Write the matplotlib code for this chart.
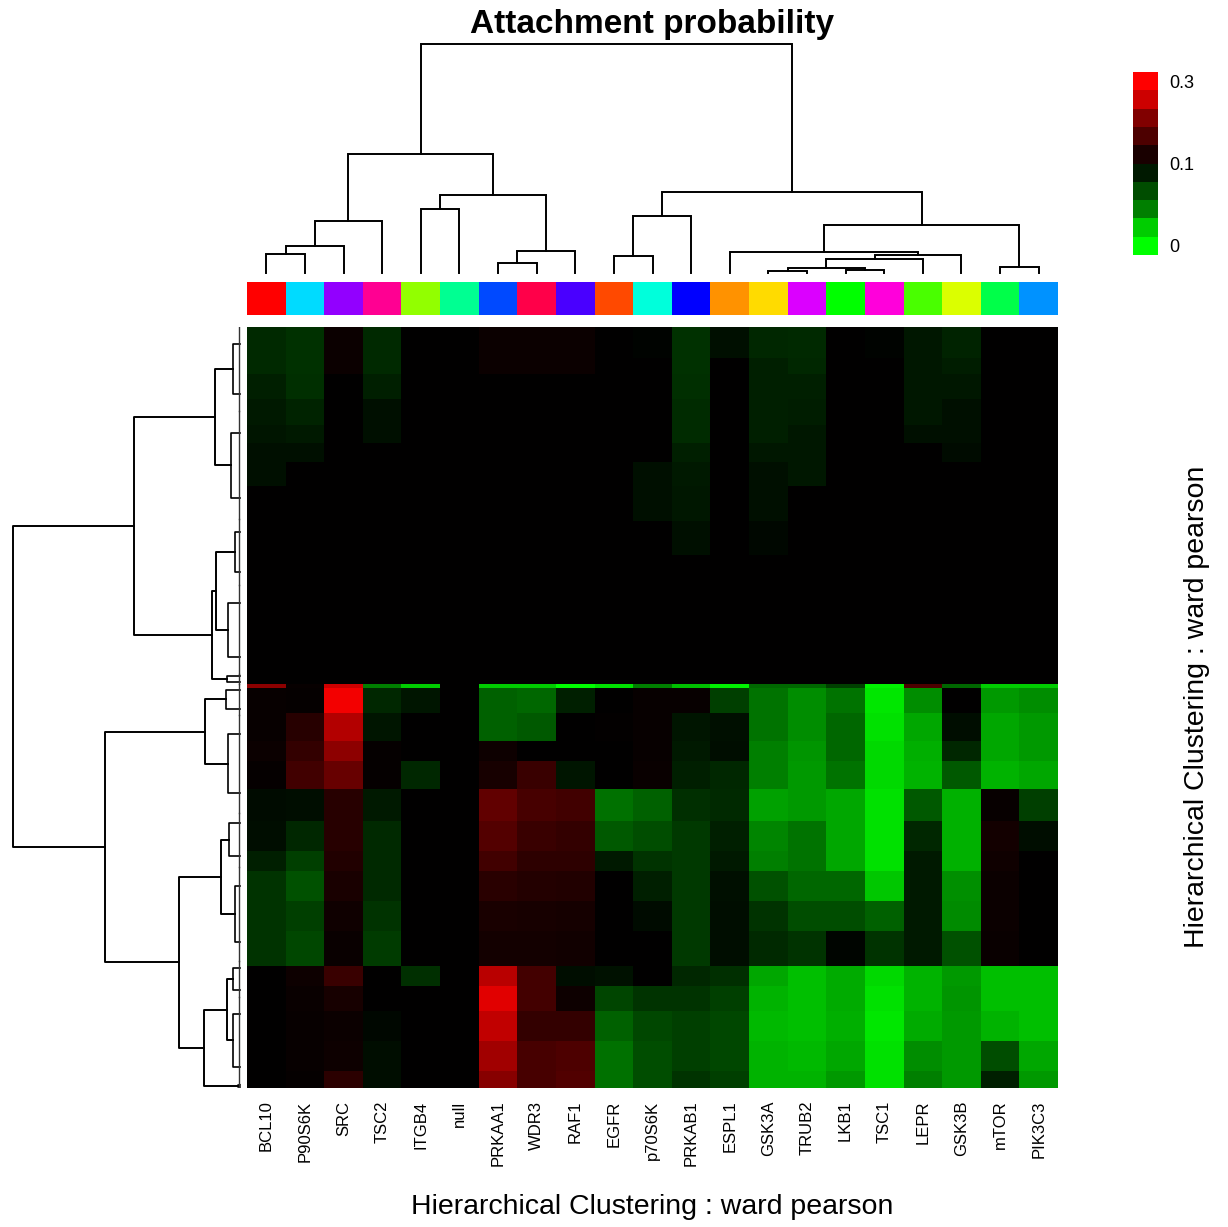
import numpy as np
import matplotlib.pyplot as plt
from matplotlib.colors import LinearSegmentedColormap, TwoSlopeNorm

plt.rcParams['font.family'] = ['Liberation Sans', 'DejaVu Sans']

# column genes (display order) and their side colours
genes = ['BCL10', 'P90S6K', 'SRC', 'TSC2', 'ITGB4', 'null', 'PRKAA1', 'WDR3', 'RAF1',
         'EGFR', 'p70S6K', 'PRKAB1', 'ESPL1', 'GSK3A', 'TRUB2', 'LKB1', 'TSC1', 'LEPR',
         'GSK3B', 'mTOR', 'PIK3C3']
gene_colors = ['#FF0000', '#00DBFF', '#9200FF', '#FF0092', '#92FF00', '#00FF92', '#0049FF',
               '#FF0049', '#4900FF', '#FF4900', '#00FFDB', '#0000FF', '#FF9200', '#FFDB00',
               '#DB00FF', '#00FF00', '#FF00DB', '#49FF00', '#DBFF00', '#00FF49', '#0092FF']

# heatmap: blocks of rows (number of rows) and their attachment probability per gene
block_rows = [31, 16, 25, 26, 18, 19, 24, 35, 34, 129,
              4, 24, 28, 20, 28,
              32, 30, 20, 30, 30, 35,
              20, 25, 30, 30, 17]
block_prob = [
    [.084, .081, .108, .084, .1, .1, .108, .108, .108, .1, .099, .081, .094, .085, .084, .1, .099, .091, .086, .1, .1],
    [.084, .081, .108, .084, .1, .1, .108, .108, .108, .1, .1, .081, .1, .0875, .085, .1, .1, .091, .089, .1, .1],
    [.0875, .082, .1, .0875, .1, .1, .1, .1, .1, .1, .1, .082, .1, .0875, .0875, .1, .1, .091, .091, .1, .1],
    [.09, .086, .1, .094, .1, .1, .1, .1, .1, .1, .1, .083, .1, .0875, .089, .1, .1, .091, .094, .1, .1],
    [.092, .09, .1, .094, .1, .1, .1, .1, .1, .1, .1, .083, .1, .0875, .091, .1, .1, .094, .094, .1, .1],
    [.094, .094, .1, .1, .1, .1, .1, .1, .1, .1, .1, .0875, .1, .091, .091, .1, .1, .1, .096, .1, .1],
    [.094, .1, .1, .1, .1, .1, .1, .1, .1, .1, .094, .09, .1, .094, .091, .1, .1, .1, .1, .1, .1],
    [.1, .1, .1, .1, .1, .1, .1, .1, .1, .1, .094, .091, .1, .094, .1, .1, .1, .1, .1, .1, .1],
    [.1, .1, .1, .1, .1, .1, .1, .1, .1, .1, .1, .094, .1, .097, .1, .1, .1, .1, .1, .1, .1],
    [.1, .1, .1, .1, .1, .1, .1, .1, .1, .1, .1, .1, .1, .1, .1, .1, .1, .1, .1, .1, .1],
    [.21, .105, .26, .05, .02, .1, .02, .02, .0, .012, .05, .025, .005, .06, .06, .075, .005, .16, .06, .02, .02],
    [.105, .104, .29, .085, .092, .1, .062, .06, .088, .1, .105, .105, .075, .055, .045, .055, .01, .045, .1, .04, .045],
    [.106, .13, .24, .092, .1, .1, .062, .065, .1, .103, .106, .092, .094, .055, .045, .06, .012, .035, .095, .035, .04],
    [.108, .14, .21, .104, .1, .1, .11, .1, .1, .1, .106, .09, .095, .05, .042, .06, .015, .032, .085, .035, .04],
    [.104, .15, .18, .104, .085, .1, .118, .145, .092, .1, .107, .088, .085, .05, .04, .055, .015, .03, .065, .03, .035],
    [.096, .095, .13, .09, .1, .1, .175, .155, .15, .056, .062, .082, .084, .037, .04, .035, .012, .065, .031, .105, .075],
    [.095, .085, .13, .084, .1, .1, .165, .145, .14, .065, .07, .078, .088, .048, .055, .035, .012, .085, .031, .115, .095],
    [.088, .075, .125, .084, .1, .1, .15, .135, .135, .09, .08, .078, .09, .05, .055, .035, .012, .09, .031, .112, .1],
    [.08, .068, .12, .084, .1, .1, .132, .128, .125, .1, .088, .078, .094, .068, .06, .06, .022, .09, .044, .108, .1],
    [.08, .075, .112, .08, .1, .1, .12, .118, .117, .1, .096, .078, .095, .08, .07, .07, .062, .09, .046, .108, .1],
    [.08, .072, .107, .077, .1, .1, .115, .115, .113, .1, .1, .078, .095, .084, .08, .098, .08, .09, .068, .107, .1],
    [.101, .11, .145, .1, .082, .1, .245, .152, .095, .093, .1, .085, .082, .035, .025, .033, .015, .03, .04, .025, .025],
    [.101, .107, .118, .1, .1, .1, .275, .152, .11, .073, .08, .08, .075, .03, .025, .033, .012, .03, .042, .025, .025],
    [.101, .106, .108, .097, .1, .1, .25, .14, .14, .062, .072, .075, .072, .028, .025, .032, .01, .033, .04, .03, .025],
    [.101, .106, .11, .095, .1, .1, .225, .155, .16, .056, .07, .075, .072, .03, .028, .035, .012, .045, .04, .07, .035],
    [.1, .104, .133, .095, .1, .1, .205, .155, .163, .056, .07, .08, .075, .03, .03, .04, .012, .05, .04, .088, .04],
]

# column dendrogram: (left, right, height), leaves are 0..20
col_links = [(0, 1, 19), (21, 2, 27), (22, 3, 52), (4, 5, 64), (6, 7, 10), (25, 8, 22),
             (24, 26, 78), (23, 27, 119), (9, 10, 17), (29, 11, 57), (13, 14, 2), (15, 16, 3),
             (31, 32, 5), (33, 17, 14), (34, 18, 18), (12, 35, 21), (19, 20, 6), (36, 37, 48),
             (30, 38, 81), (28, 39, 229)]

# row dendrogram: leaf groups of rows, height of each group's own small subtree
row_group_rows = [84, 108, 66, 89, 10, 30, 98, 54, 94, 36, 87, 4]
row_group_height = [7, 9, 5, 12, 13, 14, 12, 11, 5, 7, 7, 2]
row_links = [(0, 1, 25), (2, 3, 24), (13, 4, 28), (12, 14, 106), (5, 6, 35), (7, 8, 19),
             (9, 10, 13), (18, 11, 36), (17, 19, 61), (16, 20, 135), (15, 21, 227)]

# colour key
key_values = [0, .02, .05, .07, .09, .12, .16, .2, .26, .3]
key_labels = ['0', '0.1', '0.3']
key_label_pos = [0.5, 5, 9.5]

cmap = LinearSegmentedColormap.from_list('gbr', ['#00FF00', '#000000', '#FF0000'])
norm = TwoSlopeNorm(vmin=0, vcenter=0.1, vmax=0.3)

W, H = 1228, 1227
fig = plt.figure(figsize=(W / 100, H / 100), dpi=100)


def px_axes(x0, y0, x1, y1):
    return fig.add_axes([x0 / W, 1 - y1 / H, (x1 - x0) / W, (y1 - y0) / H])


def dendro(links, leaf_pos, leaf_h):
    pos, hgt, segs = list(leaf_pos), list(leaf_h), []
    for a, b, h in links:
        segs.append(([pos[a], pos[a], pos[b], pos[b]], [hgt[a], h, h, hgt[b]]))
        pos.append((pos[a] + pos[b]) / 2)
        hgt.append(h)
    return segs


# heatmap
ax = px_axes(247, 327, 1058, 1088)
row_edges = np.concatenate([[0], np.cumsum(block_rows)])
ax.pcolormesh(np.arange(len(genes) + 1), row_edges, np.array(block_prob), cmap=cmap, norm=norm)
ax.set_xlim(0, len(genes))
ax.set_ylim(row_edges[-1], 0)
ax.set_xticks(np.arange(len(genes)) + 0.5)
ax.set_xticklabels(genes, rotation=90, fontsize=12)
ax.tick_params(axis='x', length=0, pad=9)
ax.set_yticks([])
for s in ax.spines.values():
    s.set_visible(False)

# side colour strip
ax = px_axes(247, 282, 1058, 315)
ax.bar(np.arange(len(genes)) + 0.5, 1, width=1, color=gene_colors)
ax.set_xlim(0, len(genes))
ax.set_ylim(0, 1)
ax.axis('off')

# column dendrogram
ax = px_axes(247, 35, 1058, 280)
for xs, ys in dendro(col_links, np.arange(len(genes)) + 0.5, [0] * len(genes)):
    ax.plot(xs, ys, color='black', lw=1.4, solid_joinstyle='miter')
ax.set_xlim(0, len(genes))
ax.set_ylim(-7, 238)
ax.axis('off')

# row dendrogram
ax = px_axes(0, 327, 245, 1088)
g_edges = np.concatenate([[0], np.cumsum(row_group_rows)])
g_centre = (g_edges[:-1] + g_edges[1:]) / 2
for ys, xs in dendro(row_links, g_centre, row_group_height):
    ax.plot(xs, ys, color='black', lw=1.4)
for c, n, h in zip(g_centre, row_group_rows, row_group_height):
    lo, hi = c - 0.3 * n, c + 0.3 * n
    ax.plot([0, h, h, 0], [lo, lo, hi, hi], color='black', lw=1.2)
    ax.plot([1.5, 1.5], [c - 0.5 * n, c + 0.5 * n], color='#333333', lw=1.0)
ax.set_xlim(240, -5)
ax.set_ylim(g_edges[-1], 0)
ax.axis('off')

# colour key
ax = px_axes(1133, 72, 1158, 255)
ax.pcolormesh([0, 1], np.arange(len(key_values) + 1), np.array(key_values)[:, None], cmap=cmap, norm=norm)
ax.set_ylim(0, len(key_values))
ax.set_xticks([])
ax.yaxis.tick_right()
ax.set_yticks(key_label_pos)
ax.set_yticklabels(key_labels, fontsize=13)
ax.tick_params(axis='y', length=0, pad=8)
for s in ax.spines.values():
    s.set_visible(False)

fig.text(652 / W, 1 - 25 / H, 'Attachment probability', ha='center', va='center',
         fontsize=24, fontweight='bold')
fig.text(652 / W, 1 - 1207 / H, 'Hierarchical Clustering : ward pearson', ha='center',
         va='center', fontsize=20.5)
fig.text(1197 / W, 1 - 707 / H, 'Hierarchical Clustering : ward pearson', ha='center',
         va='center', rotation=90, fontsize=20.5)

fig.savefig('out.png', dpi=100)
